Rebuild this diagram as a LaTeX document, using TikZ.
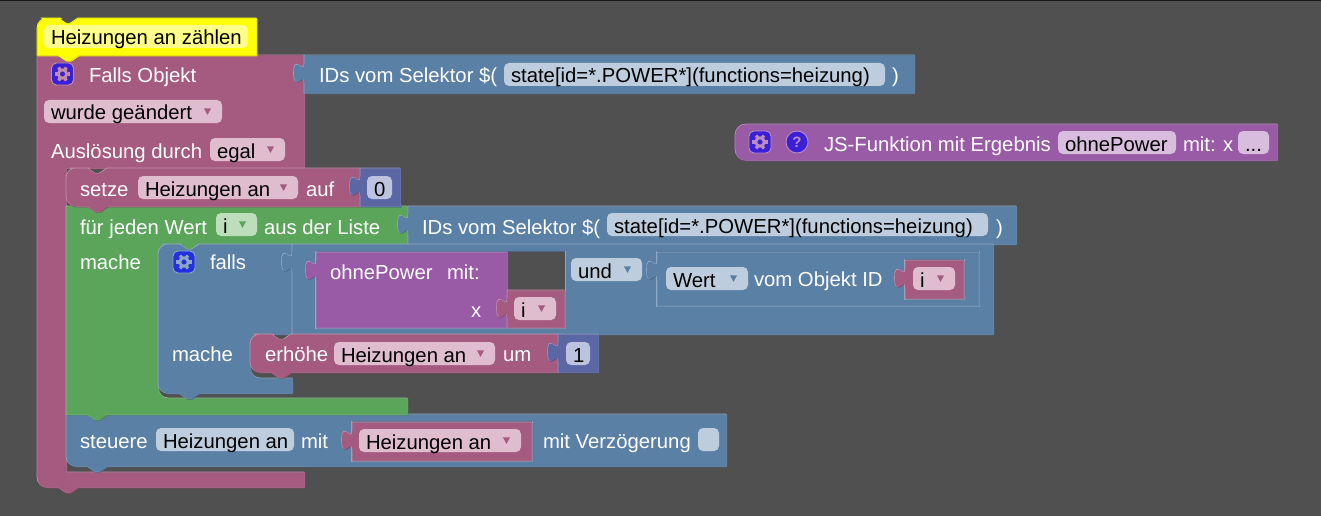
\documentclass[tikz,border=0pt]{standalone}
\usepackage{fontspec}
\setmainfont{Liberation Sans}
\definecolor{bg}{HTML}{505050}
\definecolor{pk}{HTML}{A55B80}\definecolor{pkl}{HTML}{C48DA9}\definecolor{pkd}{HTML}{844966}\definecolor{pkf}{HTML}{DFBDCE}
\definecolor{bl}{HTML}{5B80A5}\definecolor{bll}{HTML}{8DA8C4}\definecolor{bld}{HTML}{496684}\definecolor{blf}{HTML}{BDCDDE}
\definecolor{gr}{HTML}{5BA55B}\definecolor{grl}{HTML}{8DC48D}\definecolor{grd}{HTML}{498449}\definecolor{grf}{HTML}{BDDEBD}
\definecolor{pu}{HTML}{995BA5}\definecolor{pul}{HTML}{B98DC4}\definecolor{pud}{HTML}{7A4984}\definecolor{puf}{HTML}{D9BDDE}
\definecolor{ng}{HTML}{5B67A5}\definecolor{ngl}{HTML}{8D95C4}\definecolor{ngd}{HTML}{495284}\definecolor{ngf}{HTML}{BDC2DE}
\definecolor{ye}{HTML}{FFFF00}\definecolor{yel}{HTML}{FFFF00}\definecolor{yed}{HTML}{F0F000}\definecolor{yef}{HTML}{FFFF8A}
\definecolor{icA}{HTML}{3A1FD6}\definecolor{icB}{HTML}{2230E0}
\usetikzlibrary{calc}
\tikzset{
  txt/.style={font=\fontsize{20.3}{24}\selectfont,inner sep=0pt,outer sep=0pt,anchor=base west,text=white},
  fieldtxt/.style={txt,text=black},
  bevel/.style={line width=.9pt,line join=round}
}
\newcommand\blk[2]{%
  \draw[bevel,#1d,xshift=.95pt,yshift=-.95pt] #2;
  \draw[bevel,#1l,xshift=.05pt,yshift=-.05pt] #2;
  \fill[#1,xshift=.5pt,yshift=-.5pt] #2;}
\newcommand\notchR[2]{-- (#1,#2) -- (#1+7.8,#2+5.2) -- (#1+12.2,#2+5.2) -- (#1+20,#2)}
\newcommand\notchL[2]{-- (#1+20,#2) -- (#1+12.2,#2+5.2) -- (#1+7.8,#2+5.2) -- (#1,#2)}
\newcommand\tabup[2]{-- (#1,#2+27.5) .. controls (#1,#2+14.5) and (#1-10.4,#2+37.9) .. (#1-10.4,#2+17.75) .. controls (#1-10.4,#2-2.4) and (#1,#2+21) .. (#1,#2+8)}
\newcommand\val[5]{\blk{#1}{(#2,#3) -- (#4,#3) -- (#4,#5) -- (#2,#5) \tabup{#2}{#3} -- cycle}}
\newcommand\inset[5]{%
  \draw[bevel,#5l] (#1-.3,#2-.3) rectangle (#3+1.7,#4+1.7);
  \draw[bevel,#5d] (#1-.3,#2-.3) -- (#3+1.3,#2-.3);}
\newcommand\fld[6]{%
  \fill[#5,rounded corners=5pt] (#2,#3) rectangle (#4,#3+23);
  \node[fieldtxt] (#1) at (#2+7,#3+20) {#6};}
\newcommand\tri[3]{\fill[#3] (#1-3.6,#2-3.2) -- (#1+3.6,#2-3.2) -- (#1,#2+3.4) -- cycle;}
\newcommand\dd[7]{\fld{#1}{#2}{#3}{#4}{#5}{#6}\tri{#4-14.5}{#3+11.5}{#7}}
\newcommand\lbl[4]{\node[txt] (#1) at (#2,#3+1) {#4};}
\newcommand\gear[4]{%
  \draw[#4,fill=#3,line width=.9pt,rounded corners=5pt] (#1-11,#2-11) rectangle (#1+11,#2+11);
  \draw[#4,line width=2.8pt] (#1,#2) circle (4.2);
  \foreach \a in {0,60,...,300} {\draw[#4,line width=3.2pt] ($(#1,#2)+(\a:5)$) -- ($(#1,#2)+(\a:7.6)$);}}
\begin{document}
\begin{tikzpicture}[x=1pt,y=-1pt]
\useasboundingbox (0,0) rectangle (1321,516);
\fill[bg] (0,0) rectangle (1321,516);
\fill[black!70!bg] (0,0) rectangle (1321,1.5);

% main trigger block
\blk{pk}{(37,55) -- (304,55) -- (304,168) -- (66,168) -- (66,472) -- (304,472) -- (304,487) \notchL{58}{487} [rounded corners=10pt] -- (37,487) -- (37,300) [sharp corners] -- cycle}
% comment
\blk{ye}{(37,55) [rounded corners=10pt] -- (37,18) -- (51,18) [sharp corners] \notchR{58}{18} -- (256,18) -- (256,55) \notchL{58}{55} -- cycle}
\fld{comment}{44}{25}{248}{yef}{Heizungen an zählen}

\gear{62.5}{74}{icA}{pkl}
\lbl{falls}{89}{82}{Falls Objekt}
\dd{wurde}{44}{100}{222}{pkf}{wurde geändert}{pk}
\lbl{ausl}{51}{157}{Auslösung durch}
\dd{egal}{210}{138}{285}{pkf}{egal}{pk}

% IDs 1
\val{bl}{304}{55}{914}{93}
\lbl{ids1}{319}{82}{IDs vom Selektor \$(}
\fld{sel1}{504}{63}{885}{blf}{state[id=*.POWER*](functions=heizung)}
\lbl{par1}{892}{82}{)}

% JS function
\blk{pu}{(760,124) [rounded corners=11pt] -- (735,124) -- (735,160) -- (760,160) [sharp corners] -- (1277,160) -- (1277,124) -- cycle}
\gear{760}{142}{icA}{pul}
\node[circle,draw=pul,fill=icA,line width=.9pt,minimum size=22pt,inner sep=0pt,text=pul,font=\fontsize{15}{18}\selectfont\bfseries] (help) at (797,142) {?};
\lbl{js}{824}{150}{JS-Funktion mit Ergebnis}
\fld{jsname}{1058}{131}{1176}{puf}{ohnePower}
\lbl{jsmit}{1183}{150}{mit: x}
\fld{jsdots}{1238}{131}{1269}{puf}{...}

% steuere
\blk{bl}{(87,466) [rounded corners=10pt] -- (66,466) -- (66,440) [sharp corners] -- (66,414) \notchR{87}{414} -- (726,414) -- (726,466) \notchL{87}{466} -- cycle}
\lbl{steuere}{80}{447}{steuere}
\fld{stfield}{156}{428}{294}{blf}{Heizungen an}
\lbl{stmit}{301}{447}{mit}
\inset{352}{422}{531}{460}{bl}
\val{pk}{352}{422}{531}{460}
\dd{stvar}{359}{429}{521}{pkf}{Heizungen an}{pk}
\lbl{stverz}{543}{447}{mit Verzögerung}
\fill[blf,rounded corners=5pt] (698,428) rectangle (719,451);

% green loop
\blk{gr}{(66,206) -- (407,206) -- (407,244) \notchL{179}{244} [rounded corners=10pt] -- (158,244) -- (158,398) -- (200,398) [sharp corners] -- (407,398) -- (407,414) \notchL{87}{414} -- (66,414) -- cycle}
\lbl{fuer}{80}{233}{für jeden Wert}
\dd{ivar}{216}{213}{257}{grf}{i}{gr}
\lbl{aus}{264}{233}{aus der Liste}
\lbl{mache1}{80}{268}{mache}

% setze
\blk{pk}{(87,206) [rounded corners=10pt] -- (66,206) -- (66,168) -- (80,168) [sharp corners] \notchR{87}{168} -- (360,168) -- (360,206) \notchL{87}{206} -- cycle}
\lbl{setze}{80}{195}{setze}
\dd{szvar}{138}{176}{298}{pkf}{Heizungen an}{pk}
\lbl{auf}{306}{195}{auf}
\val{ng}{360}{168}{400}{206}
\fld{zero}{367}{176}{392}{ngf}{0}

% IDs 2
\val{bl}{408}{206}{1016}{244}
\lbl{ids2}{422}{233}{IDs vom Selektor \$(}
\fld{sel2}{607}{213}{988}{blf}{state[id=*.POWER*](functions=heizung)}
\lbl{par2}{996}{233}{)}

% falls
\blk{bl}{(179,393) [rounded corners=10pt] -- (158,393) -- (158,244) -- (172,244) [sharp corners] \notchR{179}{244} -- (292,244) -- (292,334) [rounded corners=10pt] -- (250,334) -- (250,378) -- (270,378) [sharp corners] -- (292,378) -- (292,393) \notchL{179}{393} -- cycle}
\gear{184}{262}{icB}{bll}
\lbl{fallstxt}{210}{268}{falls}
\lbl{mache2}{172}{360}{mache}

% und block
\val{bl}{292}{244}{993}{334}
\inset{316}{252}{564}{327}{bl}
\fill[bg] (507,252) rectangle (565,291);
\val{pu}{316}{252}{507}{327}
\lbl{ohne}{330}{278}{ohnePower}
\lbl{mitc}{447}{278}{mit:}
\lbl{xarg}{471}{316}{x}
\val{pk}{507}{290}{564}{327}
\dd{iarg}{514}{297}{556}{pkf}{i}{pk}
\dd{und}{571}{258}{642}{blf}{und}{bl}
\inset{657}{252}{978}{305}{bl}
\val{bl}{657}{252}{978}{305}
\dd{wert}{666}{267}{748}{blf}{Wert}{bl}
\lbl{vom}{754}{285}{vom Objekt ID}
\inset{905}{260}{963}{298}{bl}
\val{pk}{905}{260}{963}{298}
\dd{iobj}{913}{267}{955}{pkf}{i}{pk}

% erhoehe
\blk{pk}{(271,372) [rounded corners=10pt] -- (250,372) -- (250,334) -- (264,334) [sharp corners] \notchR{271}{334} -- (558,334) -- (558,372) \notchL{271}{372} -- cycle}
\lbl{erh}{265}{360}{erhöhe}
\dd{ervar}{334}{342}{495}{pkf}{Heizungen an}{pk}
\lbl{um}{503}{360}{um}
\val{ng}{558}{334}{598}{372}
\fld{one}{566}{342}{590}{ngf}{1}
\end{tikzpicture}
\end{document}
